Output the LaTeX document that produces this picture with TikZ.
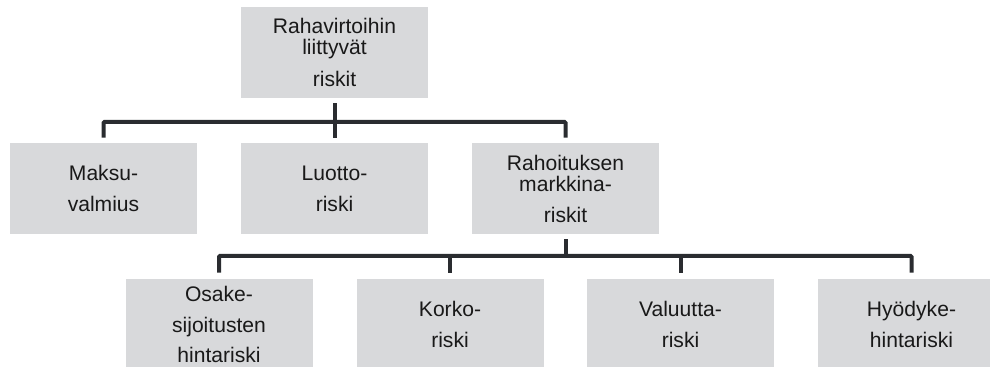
\documentclass[tikz,border=0pt]{standalone}
\usepackage{fontspec}
\setmainfont{Liberation Sans}
\usetikzlibrary{positioning}
\definecolor{boxgrey}{RGB}{216,217,219}
\definecolor{linegrey}{RGB}{42,44,48}

\begin{document}
\begin{tikzpicture}[
		riskbox/.style={fill=boxgrey, minimum width=3.74cm, minimum height=1.82cm, inner sep=0pt, align=center, font=\fontsize{12}{17.6}\selectfont, text=black!90},
		conn/.style={draw=linegrey, line width=0.08cm, rounded corners=0.5pt}
	]
		\useasboundingbox (0,0) rectangle (19.8,-7.34);
		\node[riskbox] (rahavirrat) at (6.69,-1.05) {Rahavirtoihin\\[-5.6pt]liittyvät\\[1pt]riskit};
		\node[riskbox] (maksuvalmius) at (2.07,-3.77) {Maksu-\\valmius};
		\node[riskbox] (luottoriski) at (6.69,-3.77) {Luotto-\\riski};
		\node[riskbox] (markkinariskit) at (11.31,-3.77) {Rahoituksen\\[-5.6pt]markkina-\\riskit};
		\node[riskbox] (osakeriski) at (4.38,-6.49) {Osake-\\sijoitusten\\hintariski};
		\node[riskbox] (korkoriski) at (9.0,-6.49) {Korko-\\riski};
		\node[riskbox] (valuuttariski) at (13.61,-6.49) {Valuutta-\\riski};
		\node[riskbox] (hyodykeriski) at (18.23,-6.49) {Hyödyke-\\hintariski};
		\coordinate (bar1) at (6.69,-2.44);
		\coordinate (bar2) at (11.31,-5.12);
		\draw[conn] ([yshift=-0.1cm]rahavirrat.south) -- ([yshift=0.1cm]luottoriski.north);
		\draw[conn] ([yshift=0.1cm]maksuvalmius.north) |- (bar1) -| ([yshift=0.1cm]markkinariskit.north);
		\draw[conn] ([yshift=-0.1cm]markkinariskit.south) -- (bar2);
		\draw[conn] ([yshift=0.12cm]osakeriski.north) |- (bar2) -| ([yshift=0.12cm]hyodykeriski.north);
		\draw[conn] ([yshift=0.12cm]korkoriski.north) -- (korkoriski.north |- bar2);
		\draw[conn] ([yshift=0.12cm]valuuttariski.north) -- (valuuttariski.north |- bar2);
\end{tikzpicture}
\end{document}
